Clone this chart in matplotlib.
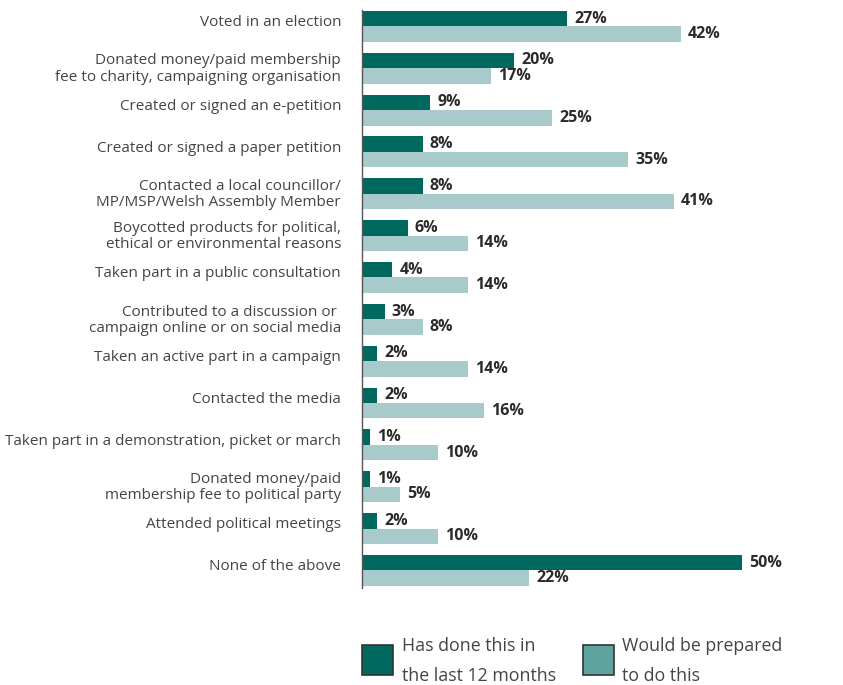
import matplotlib
matplotlib.use("Agg")
import matplotlib.pyplot as plt
from matplotlib.patches import Rectangle

plt.rcParams['font.family'] = ['Open Sans', 'DejaVu Sans']

categories = [
    "Voted in an election",
    "Donated money/paid membership\nfee to charity, campaigning organisation",
    "Created or signed an e-petition",
    "Created or signed a paper petition",
    "Contacted a local councillor/\nMP/MSP/Welsh Assembly Member",
    "Boycotted products for political,\nethical or environmental reasons",
    "Taken part in a public consultation",
    "Contributed to a discussion or \ncampaign online or on social media",
    "Taken an active part in a campaign",
    "Contacted the media",
    "Taken part in a demonstration, picket or march",
    "Donated money/paid\nmembership fee to political party",
    "Attended political meetings",
    "None of the above",
]
done_last_12m = [27, 20, 9, 8, 8, 6, 4, 3, 2, 2, 1, 1, 2, 50]
would_do = [42, 17, 25, 35, 41, 14, 14, 8, 14, 16, 10, 5, 10, 22]
legend_labels = ["Has done this in\nthe last 12 months", "Would be prepared\nto do this"]

DARK = "#00695f"
LIGHT = "#a9cacb"
LIGHT_SWATCH = "#5fa3a0"
TEXT = "#444444"
LABEL = "#2b2b2b"

W, H = 843, 685
fig = plt.figure(figsize=(W / 100, H / 100), dpi=100)
ax = fig.add_axes([362 / W, 1 - 588 / H, 481 / W, 578 / H])

bar_h = 0.37
ys = list(range(len(categories)))
y_dark = [y - bar_h / 2 for y in ys]
y_light = [y + bar_h / 2 for y in ys]

b1 = ax.barh(y_dark, done_last_12m, height=bar_h, color=DARK, linewidth=0)
b2 = ax.barh(y_light, would_do, height=bar_h, color=LIGHT, linewidth=0)

for bars, vals in ((b1, done_last_12m), (b2, would_do)):
    for rect, v in zip(bars, vals):
        ax.annotate(f"{v}%", xy=(v, rect.get_y() + rect.get_height() / 2),
                    xytext=(5, 0), textcoords="offset points",
                    va="center", ha="left", fontsize=11.5, fontweight="bold",
                    color=LABEL)

ax.set_xlim(0, 481 / 7.6)
ax.set_ylim(13.42, -0.39)

for y, lab in zip(ys, categories):
    off = 0.02 if "\n" in lab else -0.09
    ax.text(-21 / 7.6, y + off, lab, ha="right", va="center", fontsize=11,
            color=TEXT, linespacing=1.1)

for s in ("top", "right", "bottom"):
    ax.spines[s].set_visible(False)
ax.spines["left"].set_color("#555555")
ax.spines["left"].set_linewidth(1.0)
ax.set_xticks([])
ax.set_yticks([])

# legend drawn in figure pixels
def fx(px):
    return px / W

def fy(py):
    return 1 - py / H

swatches = [(362, DARK, 402), (583, LIGHT_SWATCH, 622)]
for (x0, col, tx), lab in zip(swatches, legend_labels):
    fig.patches.append(Rectangle((fx(x0), fy(675)), 31 / W, 30 / H,
                                 transform=fig.transFigure, facecolor=col,
                                 edgecolor="#333333", linewidth=1.2))
    fig.text(fx(tx), fy(661), lab, ha="left", va="center", fontsize=12.8,
             color=TEXT, linespacing=1.85)

fig.savefig("out.png", dpi=100)
